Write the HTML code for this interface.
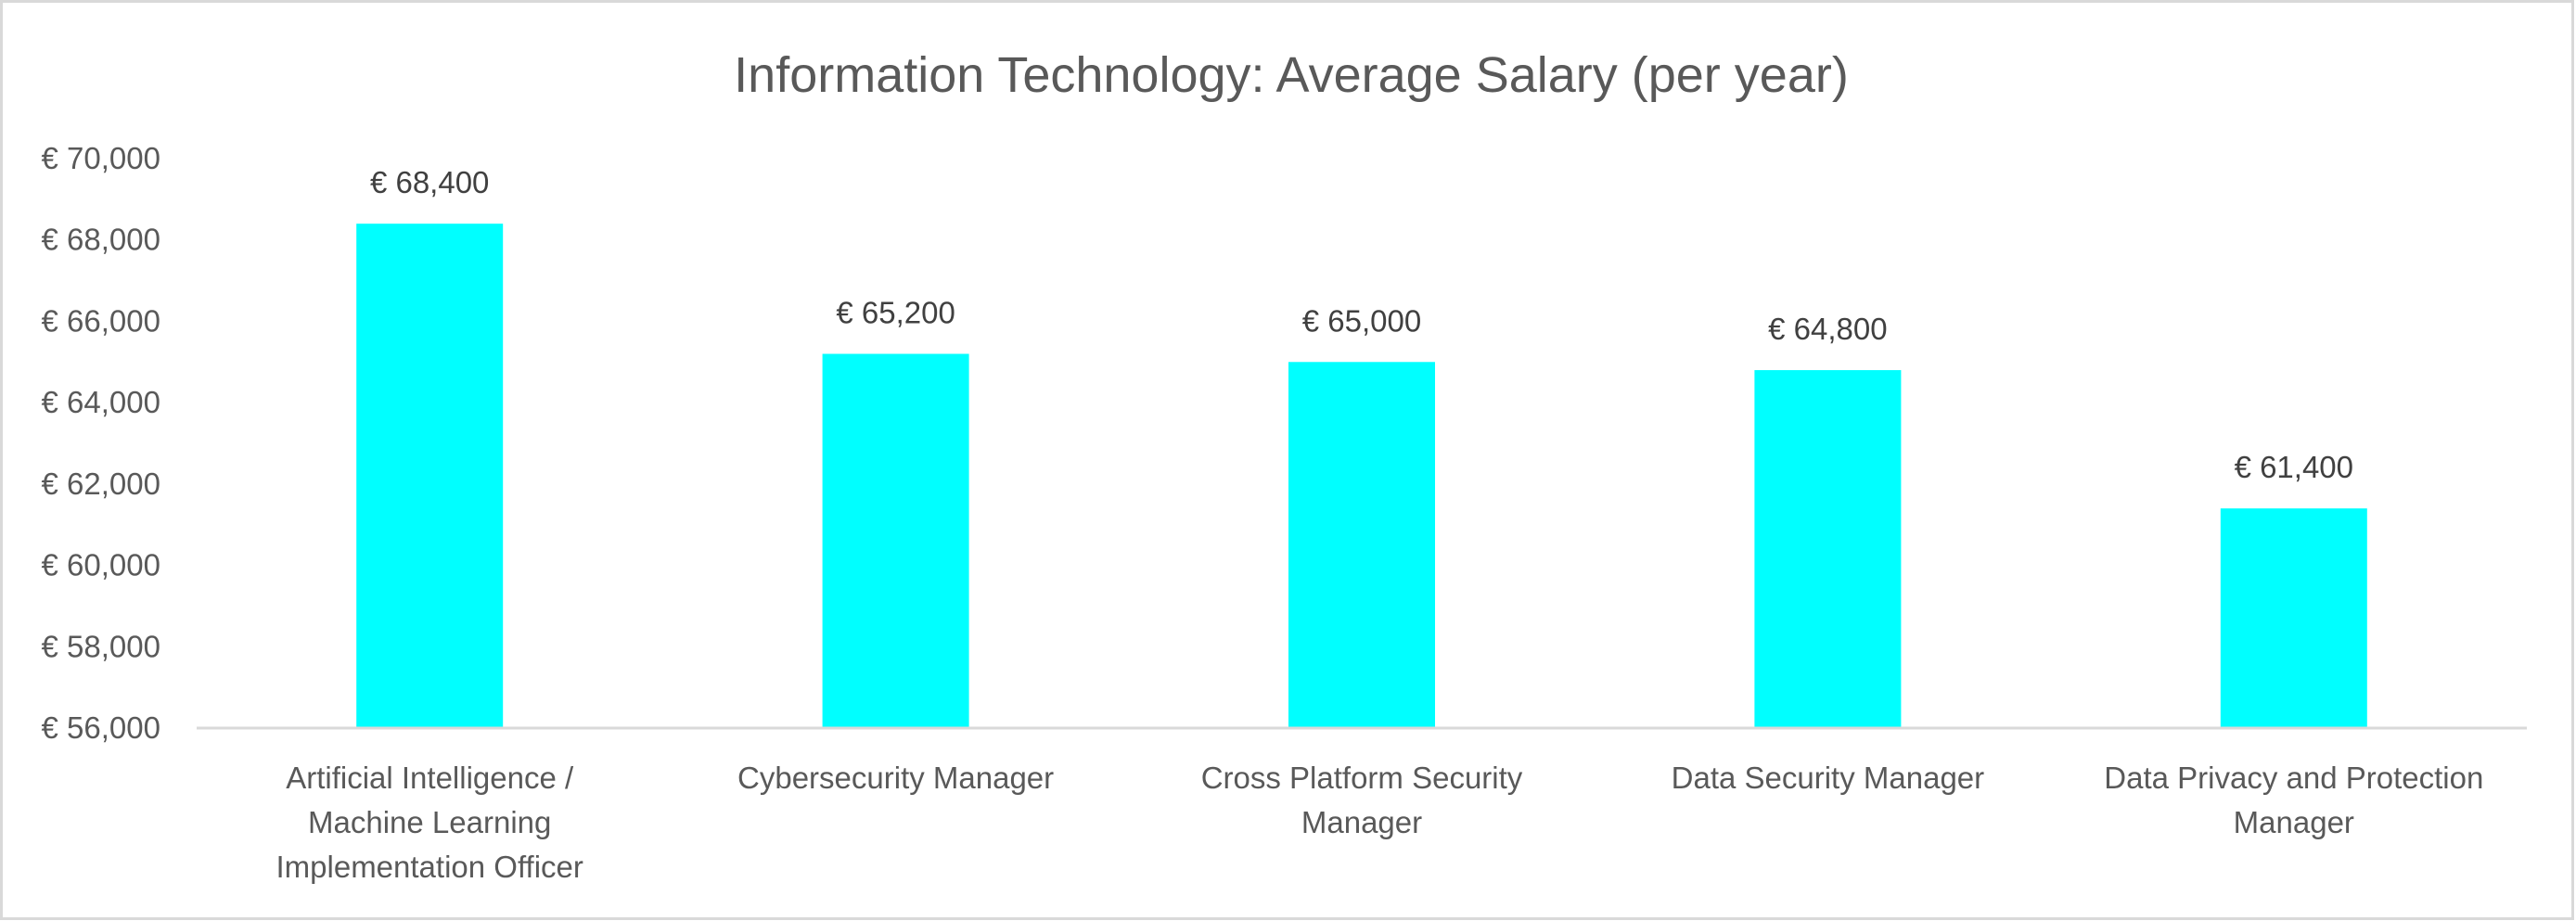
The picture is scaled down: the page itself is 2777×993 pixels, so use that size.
<!DOCTYPE html>
<html><head><meta charset="utf-8"><style>
html,body{margin:0;padding:0;background:#fff;}
svg{display:block;font-family:"Liberation Sans",sans-serif;}
</style></head><body>
<svg id="chart" width="2777" height="993" viewBox="0 0 2777 993">
<rect x="1.5" y="1.5" width="2772" height="989" fill="#fff" stroke="#d9d9d9" stroke-width="3"/>
<text x="1392" y="99" text-anchor="middle" font-size="54" fill="#595959">Information Technology: Average Salary (per year)</text>
<g id="yaxis"></g>
<g id="bars"></g>
<line x1="212" y1="785" x2="2724" y2="785" stroke="#d9d9d9" stroke-width="3"/>
<g id="xlabels"></g>
</svg>
<script>
const categories = [
  ["Artificial Intelligence /","Machine Learning","Implementation Officer"],
  ["Cybersecurity Manager"],
  ["Cross Platform Security","Manager"],
  ["Data Security Manager"],
  ["Data Privacy and Protection","Manager"]
];
const values = [68400, 65200, 65000, 64800, 61400];
const valueLabels = ["€ 68,400","€ 65,200","€ 65,000","€ 64,800","€ 61,400"];
const yTicks = [56000,58000,60000,62000,64000,66000,68000,70000];
const yTickLabels = ["€ 56,000","€ 58,000","€ 60,000","€ 62,000","€ 64,000","€ 66,000","€ 68,000","€ 70,000"];

const NS="http://www.w3.org/2000/svg";
const plotL=212, plotR=2724, y0=785, y1=171, vMin=56000, vMax=70000;
function yScale(v){return y0-(v-vMin)/(vMax-vMin)*(y0-y1);}
function xCenter(i){return plotL+(plotR-plotL)/categories.length*(i+0.5);}
const barW=158;

const yg=document.getElementById('yaxis');
yTicks.forEach((t,i)=>{
  const el=document.createElementNS(NS,'text');
  el.setAttribute('x',173);el.setAttribute('y',yScale(t)+11);
  el.setAttribute('text-anchor','end');el.setAttribute('font-size','33');el.setAttribute('fill','#595959');
  el.textContent=yTickLabels[i];
  
  
  yg.appendChild(el);
});

const bg=document.getElementById('bars');
const xg=document.getElementById('xlabels');
values.forEach((v,i)=>{
  const cx=xCenter(i), top=yScale(v);
  const r=document.createElementNS(NS,'rect');
  r.setAttribute('x',cx-barW/2);r.setAttribute('y',top);
  r.setAttribute('width',barW);r.setAttribute('height',y0-top);
  r.setAttribute('fill','#00ffff');
  
  
  bg.appendChild(r);
  const t=document.createElementNS(NS,'text');
  t.setAttribute('x',cx);t.setAttribute('y',top-33);
  t.setAttribute('text-anchor','middle');t.setAttribute('font-size','33');t.setAttribute('fill','#404040');
  t.textContent=valueLabels[i];
  
  
  bg.appendChild(t);
  categories[i].forEach((line,j)=>{
    const c=document.createElementNS(NS,'text');
    c.setAttribute('x',cx);c.setAttribute('y',850+j*48);
    c.setAttribute('text-anchor','middle');c.setAttribute('font-size','33');c.setAttribute('fill','#595959');
    c.textContent=line;
    
    
    xg.appendChild(c);
  });
});
</script>
</body></html>
